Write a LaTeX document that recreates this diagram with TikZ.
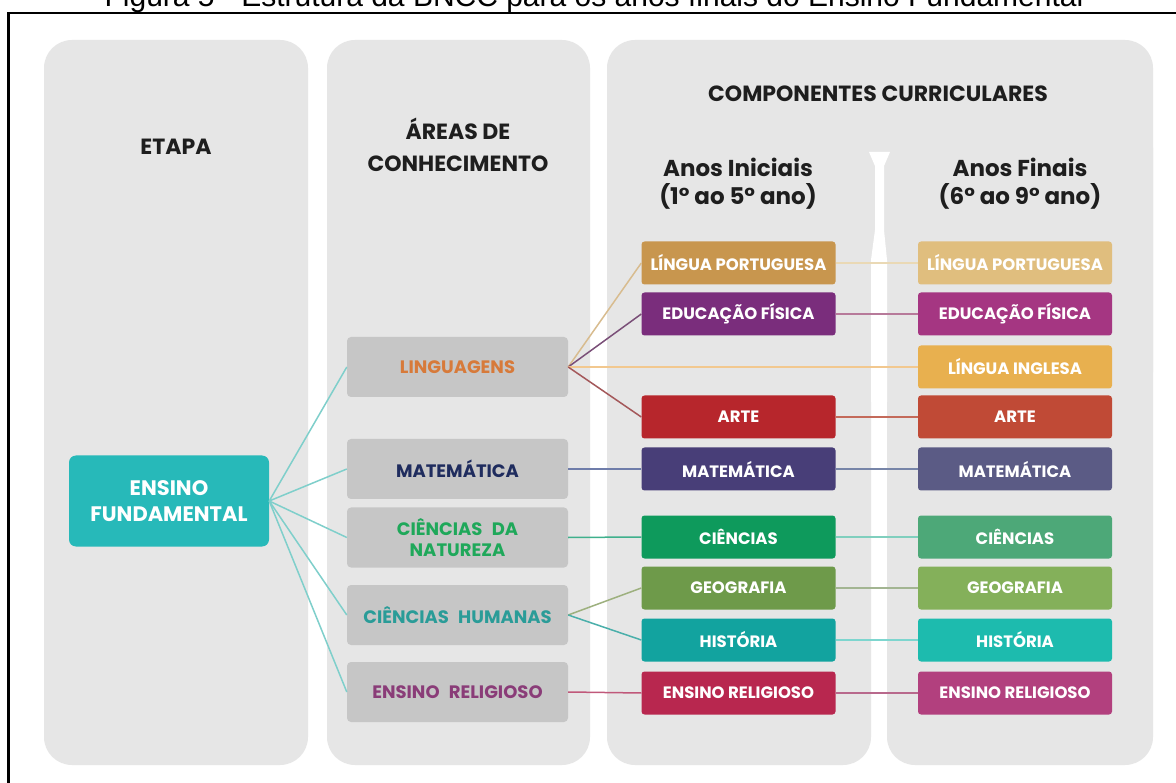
\documentclass[tikz,border=0pt]{standalone}
\usepackage{fontspec}
\setmainfont{Poppins}
\newfontfamily\capfont{Liberation Sans}
\definecolor{panelgray}{HTML}{E6E6E6}
\definecolor{areagray}{HTML}{C6C6C6}
\definecolor{hdrcol}{HTML}{1E1E1E}
\definecolor{rootcol}{HTML}{27B9B9}
% area text colours
\definecolor{tLing}{HTML}{D77A3A}
\definecolor{tMat}{HTML}{1F2C5E}
\definecolor{tCN}{HTML}{1FA85A}
\definecolor{tCH}{HTML}{2A9C98}
\definecolor{tER}{HTML}{8A3C78}
% left component boxes
\definecolor{cLPl}{HTML}{C8964E}
\definecolor{cEFl}{HTML}{7A2D7C}
\definecolor{cARl}{HTML}{B7262C}
\definecolor{cMAl}{HTML}{483E78}
\definecolor{cCIl}{HTML}{0E9A5C}
\definecolor{cGEl}{HTML}{6E9A4A}
\definecolor{cHIl}{HTML}{12A39F}
\definecolor{cERl}{HTML}{B8274F}
% right component boxes
\definecolor{cLPr}{HTML}{E0BE7E}
\definecolor{cEFr}{HTML}{A53682}
\definecolor{cLIr}{HTML}{E8B04F}
\definecolor{cARr}{HTML}{C04A36}
\definecolor{cMAr}{HTML}{5B5B85}
\definecolor{cCIr}{HTML}{4DA878}
\definecolor{cGEr}{HTML}{84B05A}
\definecolor{cHIr}{HTML}{1DBBAE}
\definecolor{cERr}{HTML}{B2407E}
% connector colours
\definecolor{kRoot}{HTML}{7FCFCB}
\definecolor{kLP}{HTML}{D8BC8F}
\definecolor{kEF}{HTML}{7A4F78}
\definecolor{kLI}{HTML}{F2C88F}
\definecolor{kAR}{HTML}{A4585A}
\definecolor{kMA}{HTML}{6F7DAA}
\definecolor{kCI}{HTML}{3FB08C}
\definecolor{kGE}{HTML}{9DB07E}
\definecolor{kHI}{HTML}{4AAFAA}
\definecolor{kER}{HTML}{C0587A}
\definecolor{kLP2}{HTML}{EAD9B5}
\definecolor{kEF2}{HTML}{B77A9A}
\definecolor{kAR2}{HTML}{C46A5A}
\definecolor{kMA2}{HTML}{7785A8}
\definecolor{kCI2}{HTML}{80CFBE}
\definecolor{kGE2}{HTML}{A3B592}
\definecolor{kHI2}{HTML}{7ED6CF}
\definecolor{kER2}{HTML}{B8698C}
\begin{document}
\begin{tikzpicture}[x=1pt,y=-1pt,
  panel/.style={fill=panelgray, rounded corners=28pt},
  hdr/.style={anchor=base, text=hdrcol, font=\bfseries\fontsize{22}{26}\selectfont, inner sep=0pt},
  subhdr/.style={anchor=base, text=hdrcol, font=\bfseries\fontsize{23}{27}\selectfont, inner sep=0pt},
  areabox/.style={rectangle, fill=areagray, rounded corners=4pt, minimum width=221pt, minimum height=60pt, inner sep=0pt, align=center, font=\bfseries\fontsize{18}{21}\selectfont},
  compbox/.style={rectangle, rounded corners=3pt, minimum width=194pt, minimum height=43pt, inner sep=0pt, text=white, font=\bfseries\fontsize{16.5}{19}\selectfont},
  link/.style={line width=1.5pt}
]
\useasboundingbox (0,0) rectangle (1176,783);
\clip (0,0) rectangle (1176,783);
\fill[white] (0,0) rectangle (1176,783);
% caption (cut off at top)
\node[anchor=base, inner sep=0pt, font=\capfont\fontsize{30}{34}\selectfont] (cap) at (594,7) {Figura 5 - Estrutura da BNCC para os anos finais do Ensino Fundamental};
% frame
\draw[line width=2.5pt] (8.7,800) -- (8.7,13) -- (1190,13);
% panels
\fill[panel] (44,40) rectangle (308,765);
\fill[panel] (327,40) rectangle (590,765);
\fill[panel] (607,40) rectangle (1153,400);
\fill[panel] (607,120) rectangle (871,765);
\fill[panel] (887,120) rectangle (1153,765);
\fill[white] (869,152) -- (890,152) -- (884,166) -- (884,230) -- (887,260) -- (887,402) -- (871,402) -- (871,260) -- (875,230) -- (875,166) -- cycle;
% headers
\node[hdr] (hEtapa) at (176,155) {ETAPA};
\node[hdr] (hAreas1) at (458,140) {ÁREAS DE};
\node[hdr] (hAreas2) at (458,172) {CONHECIMENTO};
\node[hdr] (hComp) at (878,102) {COMPONENTES CURRICULARES};
\node[subhdr] (hIni1) at (738,177) {Anos Iniciais};
\node[subhdr] (hIni2) at (738,205) {(1° ao 5° ano)};
\node[subhdr] (hFin1) at (1020,177) {Anos Finais};
\node[subhdr] (hFin2) at (1020,205) {(6° ao 9° ano)};
% root
\node[rectangle, fill=rootcol, rounded corners=7pt, minimum width=200pt, minimum height=91pt, inner sep=0pt, align=center, text=white, font=\bfseries\fontsize{21}{26}\selectfont] (root) at (169,501) {ENSINO\\FUNDAMENTAL};
% areas
\node[areabox, text=tLing] (ling) at (457.5,367) {LINGUAGENS};
\node[areabox, text=tMat] (mat) at (457.5,469) {MATEMÁTICA};
\node[areabox, text=tCN] (cn) at (457.5,537.5) {CIÊNCIAS\hspace{0.3em} DA\\NATUREZA};
\node[areabox, text=tCH] (ch) at (457.5,615) {CIÊNCIAS\hspace{0.3em} HUMANAS};
\node[areabox, text=tER] (er) at (457.5,692) {ENSINO\hspace{0.3em} RELIGIOSO};
% components, anos iniciais
\node[compbox, fill=cLPl] (lpL) at (738.5,263) {LÍNGUA PORTUGUESA};
\node[compbox, fill=cEFl] (efL) at (738.5,314) {EDUCAÇÃO FÍSICA};
\node[compbox, fill=cARl] (arL) at (738.5,417) {ARTE};
\node[compbox, fill=cMAl] (maL) at (738.5,469) {MATEMÁTICA};
\node[compbox, fill=cCIl] (ciL) at (738.5,537) {CIÊNCIAS};
\node[compbox, fill=cGEl] (geL) at (738.5,588) {GEOGRAFIA};
\node[compbox, fill=cHIl] (hiL) at (738.5,640) {HISTÓRIA};
\node[compbox, fill=cERl] (erL) at (738.5,693) {ENSINO RELIGIOSO};
% components, anos finais
\node[compbox, fill=cLPr] (lpR) at (1015,263) {LÍNGUA PORTUGUESA};
\node[compbox, fill=cEFr] (efR) at (1015,314) {EDUCAÇÃO FÍSICA};
\node[compbox, fill=cLIr] (liR) at (1015,367) {LÍNGUA INGLESA};
\node[compbox, fill=cARr] (arR) at (1015,417) {ARTE};
\node[compbox, fill=cMAr] (maR) at (1015,469) {MATEMÁTICA};
\node[compbox, fill=cCIr] (ciR) at (1015,537) {CIÊNCIAS};
\node[compbox, fill=cGEr] (geR) at (1015,588) {GEOGRAFIA};
\node[compbox, fill=cHIr] (hiR) at (1015,640) {HISTÓRIA};
\node[compbox, fill=cERr] (erR) at (1015,693) {ENSINO RELIGIOSO};
% root connectors
\foreach \a in {ling,mat,cn,ch,er} \draw[link, kRoot] (root.east) -- (\a.west);
% area to anos iniciais
\draw[link, kLP] (ling.east) -- (lpL.west);
\draw[link, kEF] (ling.east) -- (efL.west);
\draw[link, kLI] (ling.east) -- (liR.west);
\draw[link, kAR] (ling.east) -- (arL.west);
\draw[link, kMA] (mat.east) -- (maL.west);
\draw[link, kCI] (cn.east) -- (ciL.west);
\draw[link, kGE] (ch.east) -- (geL.west);
\draw[link, kHI] (ch.east) -- (hiL.west);
\draw[link, kER] (er.east) -- (erL.west);
% anos iniciais to anos finais
\draw[link, kLP2] (lpL.east) -- (lpR.west);
\draw[link, kEF2] (efL.east) -- (efR.west);
\draw[link, kAR2] (arL.east) -- (arR.west);
\draw[link, kMA2] (maL.east) -- (maR.west);
\draw[link, kCI2] (ciL.east) -- (ciR.west);
\draw[link, kGE2] (geL.east) -- (geR.west);
\draw[link, kHI2] (hiL.east) -- (hiR.west);
\draw[link, kER2] (erL.east) -- (erR.west);
\end{tikzpicture}
\end{document}
